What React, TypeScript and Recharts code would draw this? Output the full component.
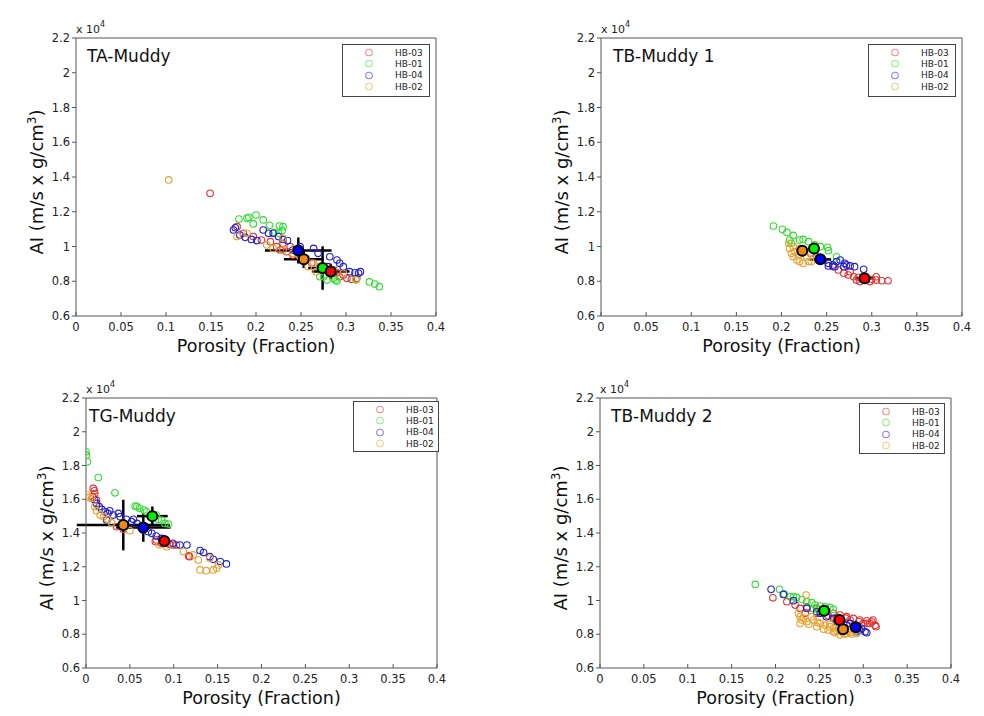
import React from "react";
import { ScatterChart, Scatter, XAxis, YAxis, ErrorBar, Legend } from "recharts";

type Pt = [number, number];
// well, porosity, AI (x10^4), porosity error, AI error
type Mean = [string, number, number, number, number];

const xTicks = [0, 0.05, 0.1, 0.15, 0.2, 0.25, 0.3, 0.35, 0.4];
const yTicks = [0.6, 0.8, 1, 1.2, 1.4, 1.6, 1.8, 2, 2.2];
const wells = ["HB-03", "HB-01", "HB-04", "HB-02"];

const wellColor: Record<string, string> = {
  "HB-03": "#e03434",
  "HB-01": "#34dc34",
  "HB-04": "#2222cc",
  "HB-02": "#e8a232",
};
const meanColor: Record<string, string> = {
  "HB-03": "#ff0000",
  "HB-01": "#00f000",
  "HB-04": "#0000ff",
  "HB-02": "#ee8a12",
};

// ---- TA-Muddy
const taHB03: Pt[] = [
  [0.179, 1.114], [0.186, 1.076], [0.197, 1.057], [0.206, 1.037], [0.216, 1.028],
  [0.223, 0.999], [0.227, 0.98], [0.234, 0.97], [0.241, 0.951], [0.238, 0.999],
  [0.23, 1.018], [0.25, 0.935], [0.262, 0.905], [0.271, 0.884], [0.277, 0.865],
  [0.286, 0.846], [0.293, 0.826], [0.301, 0.817], [0.306, 0.811], [0.312, 0.817],
  [0.297, 0.836], [0.29, 0.849], [0.149, 1.306],
];
const taHB01: Pt[] = [
  [0.181, 1.158], [0.19, 1.162], [0.2, 1.181], [0.208, 1.153], [0.215, 1.122],
  [0.226, 1.118], [0.23, 1.114], [0.22, 1.08], [0.225, 1.076], [0.197, 1.13],
  [0.192, 1.168], [0.229, 1.091], [0.286, 0.817], [0.29, 0.801], [0.275, 0.826],
  [0.279, 0.807], [0.271, 0.826], [0.288, 0.807], [0.311, 0.811], [0.326, 0.796],
  [0.332, 0.784], [0.337, 0.769],
];
const taHB04: Pt[] = [
  [0.175, 1.095], [0.177, 1.108], [0.182, 1.066], [0.188, 1.053], [0.195, 1.041],
  [0.201, 1.034], [0.208, 1.095], [0.214, 1.076], [0.219, 1.076], [0.225, 1.057],
  [0.23, 1.041], [0.235, 1.034], [0.241, 0.98], [0.249, 0.999], [0.264, 0.989],
  [0.269, 0.961], [0.282, 0.941], [0.29, 0.922], [0.293, 0.903], [0.297, 0.884],
  [0.304, 0.855], [0.314, 0.846], [0.316, 0.855], [0.28, 0.884], [0.286, 0.855],
  [0.31, 0.849],
];
const taHB02: Pt[] = [
  [0.103, 1.383], [0.179, 1.057], [0.19, 1.076], [0.212, 1.009], [0.23, 1.047],
  [0.219, 0.989], [0.23, 0.98], [0.241, 0.961], [0.249, 0.941], [0.256, 0.932],
  [0.264, 0.903], [0.271, 0.884], [0.279, 0.874], [0.286, 0.865], [0.297, 0.846],
  [0.311, 0.807], [0.258, 0.884], [0.267, 0.855],
];
const taMeans: Mean[] = [
  ["HB-04", 0.247, 0.977, 0.037, 0.075],
  ["HB-02", 0.253, 0.926, 0.022, 0.05],
  ["HB-01", 0.274, 0.876, 0.016, 0.125],
  ["HB-03", 0.283, 0.856, 0.021, 0.045],
];

// ---- TB-Muddy 1
const tb1HB03: Pt[] = [
  [0.257, 0.884], [0.263, 0.865], [0.269, 0.846], [0.274, 0.836], [0.28, 0.826],
  [0.285, 0.823], [0.291, 0.817], [0.294, 0.807], [0.3, 0.811], [0.305, 0.807],
  [0.311, 0.803], [0.318, 0.803], [0.287, 0.798], [0.298, 0.798], [0.305, 0.826],
  [0.276, 0.855], [0.283, 0.807],
];
const tb1HB01: Pt[] = [
  [0.191, 1.118], [0.201, 1.099], [0.206, 1.081], [0.213, 1.064], [0.209, 1.037],
  [0.22, 1.037], [0.224, 1.041], [0.23, 1.028], [0.237, 1.009], [0.251, 0.995],
  [0.252, 0.976], [0.261, 0.941], [0.211, 1.018], [0.243, 0.999],
];
const tb1HB04: Pt[] = [
  [0.232, 0.961], [0.239, 0.941], [0.246, 0.922], [0.252, 0.903], [0.257, 0.894],
  [0.261, 0.913], [0.265, 0.922], [0.27, 0.903], [0.276, 0.888], [0.281, 0.884],
  [0.291, 0.869], [0.252, 0.888], [0.243, 0.932], [0.259, 0.884], [0.269, 0.884],
  [0.272, 0.894],
];
const tb1HB02: Pt[] = [
  [0.208, 1.018], [0.209, 0.989], [0.211, 0.961], [0.213, 0.941], [0.217, 0.922],
  [0.22, 0.913], [0.224, 0.903], [0.23, 0.913], [0.233, 0.913], [0.239, 0.932],
  [0.215, 0.97], [0.219, 0.951], [0.213, 0.999], [0.22, 0.989], [0.228, 0.941],
  [0.232, 0.961],
];
const tb1Means: Mean[] = [
  ["HB-02", 0.223, 0.976, 0.006, 0.01],
  ["HB-01", 0.236, 0.989, 0.006, 0.01],
  ["HB-04", 0.243, 0.926, 0.012, 0.01],
  ["HB-03", 0.292, 0.817, 0.01, 0.01],
];

// ---- TG-Muddy
const tgHB03: Pt[] = [
  [0.0083, 1.664], [0.0095, 1.65], [0.01, 1.634], [0.0076, 1.615], [0.012, 1.595],
  [0.035, 1.437], [0.0425, 1.422], [0.079, 1.349], [0.08, 1.359], [0.086, 1.339],
  [0.088, 1.343], [0.092, 1.339], [0.095, 1.333], [0.099, 1.329], [0.103, 1.329],
  [0.117, 1.264], [0.118, 1.26],
];
const tgHB01: Pt[] = [
  [0.0, 1.881], [0.0004, 1.861], [0.0015, 1.822], [0.014, 1.729], [0.033, 1.638],
  [0.056, 1.56], [0.058, 1.556], [0.061, 1.546], [0.066, 1.536], [0.069, 1.526],
  [0.077, 1.497], [0.08, 1.506], [0.082, 1.481], [0.086, 1.477], [0.09, 1.457],
  [0.094, 1.453],
];
const tgHB04: Pt[] = [
  [0.01, 1.595], [0.012, 1.575], [0.015, 1.556], [0.018, 1.54], [0.022, 1.526],
  [0.0235, 1.477], [0.025, 1.516], [0.027, 1.532], [0.031, 1.506], [0.037, 1.516],
  [0.039, 1.497], [0.046, 1.481], [0.052, 1.467], [0.054, 1.481], [0.058, 1.457],
  [0.065, 1.418], [0.071, 1.408], [0.075, 1.398], [0.08, 1.382], [0.086, 1.368],
  [0.099, 1.339], [0.107, 1.329], [0.115, 1.329], [0.13, 1.296], [0.134, 1.284],
  [0.141, 1.26], [0.145, 1.244], [0.153, 1.231], [0.16, 1.217],
];
const tgHB02: Pt[] = [
  [0.0015, 1.625], [0.0038, 1.611], [0.0065, 1.605], [0.01, 1.556], [0.012, 1.532],
  [0.016, 1.506], [0.02, 1.497], [0.025, 1.481], [0.029, 1.461], [0.05, 1.414],
  [0.084, 1.329], [0.092, 1.319], [0.111, 1.29], [0.122, 1.27], [0.128, 1.24],
  [0.13, 1.181], [0.137, 1.177], [0.141, 1.25], [0.145, 1.181], [0.149, 1.191],
  [0.151, 1.211],
];
const tgMeans: Mean[] = [
  ["HB-02", 0.0425, 1.447, 0.053, 0.15],
  ["HB-04", 0.0653, 1.432, 0.031, 0.084],
  ["HB-01", 0.0756, 1.5, 0.0175, 0.057],
  ["HB-03", 0.0893, 1.352, 0.004, 0.01],
];

// ---- TB-Muddy 2
const tb2HB03: Pt[] = [
  [0.197, 1.016], [0.213, 0.993], [0.2224, 0.973], [0.228, 0.953], [0.2357, 0.963],
  [0.234, 0.924], [0.247, 0.953], [0.247, 0.924], [0.258, 0.939], [0.26, 0.91],
  [0.266, 0.924], [0.27, 0.9], [0.2736, 0.914], [0.28, 0.895], [0.281, 0.904],
  [0.285, 0.884], [0.2888, 0.894], [0.295, 0.875], [0.296, 0.884], [0.3, 0.864],
  [0.304, 0.88], [0.305, 0.865], [0.3078, 0.864], [0.3097, 0.874], [0.311, 0.884],
  [0.3135, 0.854], [0.3146, 0.845], [0.268, 0.894],
];
const tb2HB01: Pt[] = [
  [0.177, 1.095], [0.2046, 1.066], [0.21, 1.038], [0.2167, 1.022], [0.2205, 1.022],
  [0.224, 1.018], [0.23, 1.006], [0.2357, 0.993], [0.2414, 0.987], [0.245, 0.973],
  [0.251, 0.967], [0.2566, 0.963], [0.262, 0.959], [0.266, 0.947], [0.243, 0.953],
  [0.249, 0.943],
];
const tb2HB04: Pt[] = [
  [0.195, 1.066], [0.209, 1.036], [0.2205, 0.999], [0.2357, 0.953], [0.247, 0.933],
  [0.251, 0.924], [0.258, 0.904], [0.266, 0.894], [0.27, 0.874], [0.281, 0.854],
  [0.285, 0.864], [0.289, 0.845], [0.2926, 0.815], [0.296, 0.825], [0.298, 0.835],
  [0.302, 0.815], [0.304, 0.809],
];
const tb2HB02: Pt[] = [
  [0.2349, 1.032], [0.226, 0.924], [0.228, 0.904], [0.23, 0.884], [0.228, 0.864],
  [0.232, 0.895], [0.2357, 0.874], [0.238, 0.86], [0.241, 0.904], [0.243, 0.884],
  [0.247, 0.845], [0.248, 0.87], [0.251, 0.864], [0.255, 0.83], [0.2566, 0.854],
  [0.26, 0.825], [0.262, 0.845], [0.262, 0.86], [0.266, 0.835], [0.266, 0.815],
  [0.268, 0.81], [0.27, 0.821], [0.272, 0.845], [0.2736, 0.795], [0.2755, 0.815],
  [0.278, 0.8], [0.281, 0.805], [0.283, 0.821], [0.285, 0.81], [0.287, 0.801],
  [0.29, 0.82], [0.2926, 0.805],
];
const tb2Means: Mean[] = [
  ["HB-01", 0.2554, 0.939, 0, 0],
  ["HB-03", 0.273, 0.884, 0, 0],
  ["HB-02", 0.277, 0.829, 0, 0],
  ["HB-04", 0.2915, 0.841, 0, 0],
];

// margins already account for the 1px axis strips
const panels = [
  {
    title: "TA-Muddy", left: 0, top: 0, height: 358, titleDx: 11,
    margin: { top: 37, left: 75, right: 43, bottom: 41 },
    legend: { x: 342, y: 44, w: 88, h: 53 },
    clouds: [taHB03, taHB01, taHB04, taHB02], means: taMeans,
  },
  {
    title: "TB-Muddy 1", left: 500, top: 0, height: 358, titleDx: 12,
    margin: { top: 37, left: 100, right: 17, bottom: 41 },
    legend: { x: 368, y: 44, w: 88, h: 53 },
    clouds: [tb1HB03, tb1HB01, tb1HB04, tb1HB02], means: tb1Means,
  },
  {
    title: "TG-Muddy", left: 0, top: 360, height: 350, titleDx: 3,
    margin: { top: 37, left: 85, right: 42, bottom: 41 },
    legend: { x: 353, y: 41, w: 86, h: 51 },
    clouds: [tgHB03, tgHB01, tgHB04, tgHB02], means: tgMeans,
  },
  {
    title: "TB-Muddy 2", left: 500, top: 360, height: 350, titleDx: 11,
    margin: { top: 37, left: 99, right: 28, bottom: 41 },
    legend: { x: 359, y: 43, w: 86, h: 51 },
    clouds: [tb2HB03, tb2HB01, tb2HB04, tb2HB02], means: tb2Means,
  },
];

const FONT = "DejaVu Sans";
const tickStyle = { fontSize: 11.5, fill: "#222", fontFamily: FONT };
const AXIS = "#555";

const hollow = (color: string) => (p: any) =>
  <circle cx={p.cx} cy={p.cy} r={3.3} fill="none" stroke={color} strokeWidth={1.1} />;

const meanDot = (p: any) =>
  <circle cx={p.cx} cy={p.cy} r={5} fill={meanColor[p.payload.well]} stroke="#000" strokeWidth={2} />;

function XTitle(props: any) {
  const vb = props.viewBox;
  if (!vb) return null;
  return (
    <text x={vb.x + vb.width / 2} y={vb.y + 36} textAnchor="middle" fontSize={17.5} fontFamily={FONT} fill="#111">
      Porosity (Fraction)
    </text>
  );
}

function YTitle(props: any) {
  const vb = props.viewBox;
  if (!vb) return null;
  const px = vb.x + vb.width;
  const cx = px - 33;
  const cy = vb.y + vb.height / 2 + 5;
  return (
    <g fontFamily={FONT}>
      <text transform={`rotate(-90 ${cx} ${cy})`} x={cx} y={cy} textAnchor="middle" fontSize={18} fill="#111">
        AI (m/s x g/cm<tspan dy={-7} fontSize={12}>3</tspan><tspan dy={7}>)</tspan>
      </text>
      <text x={px} y={vb.y - 5} fontSize={11} fill="#222">
        x 10<tspan dy={-6} fontSize={8}>4</tspan>
      </text>
      <text x={px + props.titleDx} y={vb.y + 24} fontSize={17} fill="#111">{props.title}</text>
    </g>
  );
}

function LegendBox() {
  return (
    <div style={{ fontFamily: FONT, fontSize: 9, color: "#222", paddingTop: 2 }}>
      {wells.map((w) => (
        <div key={w} style={{ display: "flex", alignItems: "center", height: 11.3 }}>
          <svg width={48} height={11} style={{ flex: "none" }}>
            <circle cx={26} cy={5.5} r={3.3} fill="none" stroke={wellColor[w]} strokeOpacity={0.55} strokeWidth={1.1} />
          </svg>
          <span style={{ marginLeft: 4 }}>{w}</span>
        </div>
      ))}
    </div>
  );
}

function Panel({ cfg }: { cfg: (typeof panels)[number] }) {
  const meanData = cfg.means.map(([well, x, y, ex, ey]) => ({ well, x, y, ex, ey }));
  return (
    <div style={{ position: "absolute", left: cfg.left, top: cfg.top }}>
      <ScatterChart width={480} height={cfg.height} margin={cfg.margin} style={{ fontFamily: FONT }}>
        <XAxis
          type="number" dataKey="x" domain={[0, 0.4]} ticks={xTicks} interval={0}
          allowDataOverflow height={1} tickSize={-4} tickMargin={11}
          tick={tickStyle} stroke={AXIS} label={<XTitle />}
        />
        <YAxis
          type="number" dataKey="y" domain={[0.6, 2.2]} ticks={yTicks} interval={0}
          allowDataOverflow width={1} tickSize={4} tickMargin={2}
          tick={tickStyle} stroke={AXIS} label={<YTitle title={cfg.title} titleDx={cfg.titleDx} />}
        />
        <XAxis
          xAxisId="top" orientation="top" type="number" domain={[0, 0.4]} ticks={xTicks}
          interval={0} height={1} tickSize={-4} tick={false} stroke={AXIS}
        />
        <YAxis
          yAxisId="right" orientation="right" type="number" domain={[0.6, 2.2]} ticks={yTicks}
          interval={0} width={1} tickSize={-4} tick={false} stroke={AXIS}
        />
        {cfg.clouds.map((pts, i) => (
          <Scatter
            key={wells[i]} name={wells[i]} fill={wellColor[wells[i]]}
            data={pts.map(([x, y]) => ({ x, y }))}
            shape={hollow(wellColor[wells[i]])} isAnimationActive={false}
          />
        ))}
        <Scatter name="mean" data={meanData} shape={meanDot} legendType="none" isAnimationActive={false}>
          <ErrorBar dataKey="ex" direction="x" width={0} stroke="#000" strokeWidth={2.5} />
          <ErrorBar dataKey="ey" direction="y" width={0} stroke="#000" strokeWidth={2.5} />
        </Scatter>
        <Legend
          layout="vertical" align="center" verticalAlign="middle" content={<LegendBox />}
          wrapperStyle={{
            left: cfg.legend.x, top: cfg.legend.y, width: cfg.legend.w, height: cfg.legend.h,
            border: "1px solid #444", background: "#fff", boxSizing: "border-box",
          }}
        />
      </ScatterChart>
    </div>
  );
}

export default function App() {
  return (
    <div style={{ position: "absolute", left: 0, top: 0, width: 984, height: 716, overflow: "hidden", background: "#fff" }}>
      {panels.map((p) => <Panel key={p.title} cfg={p} />)}
    </div>
  );
}
